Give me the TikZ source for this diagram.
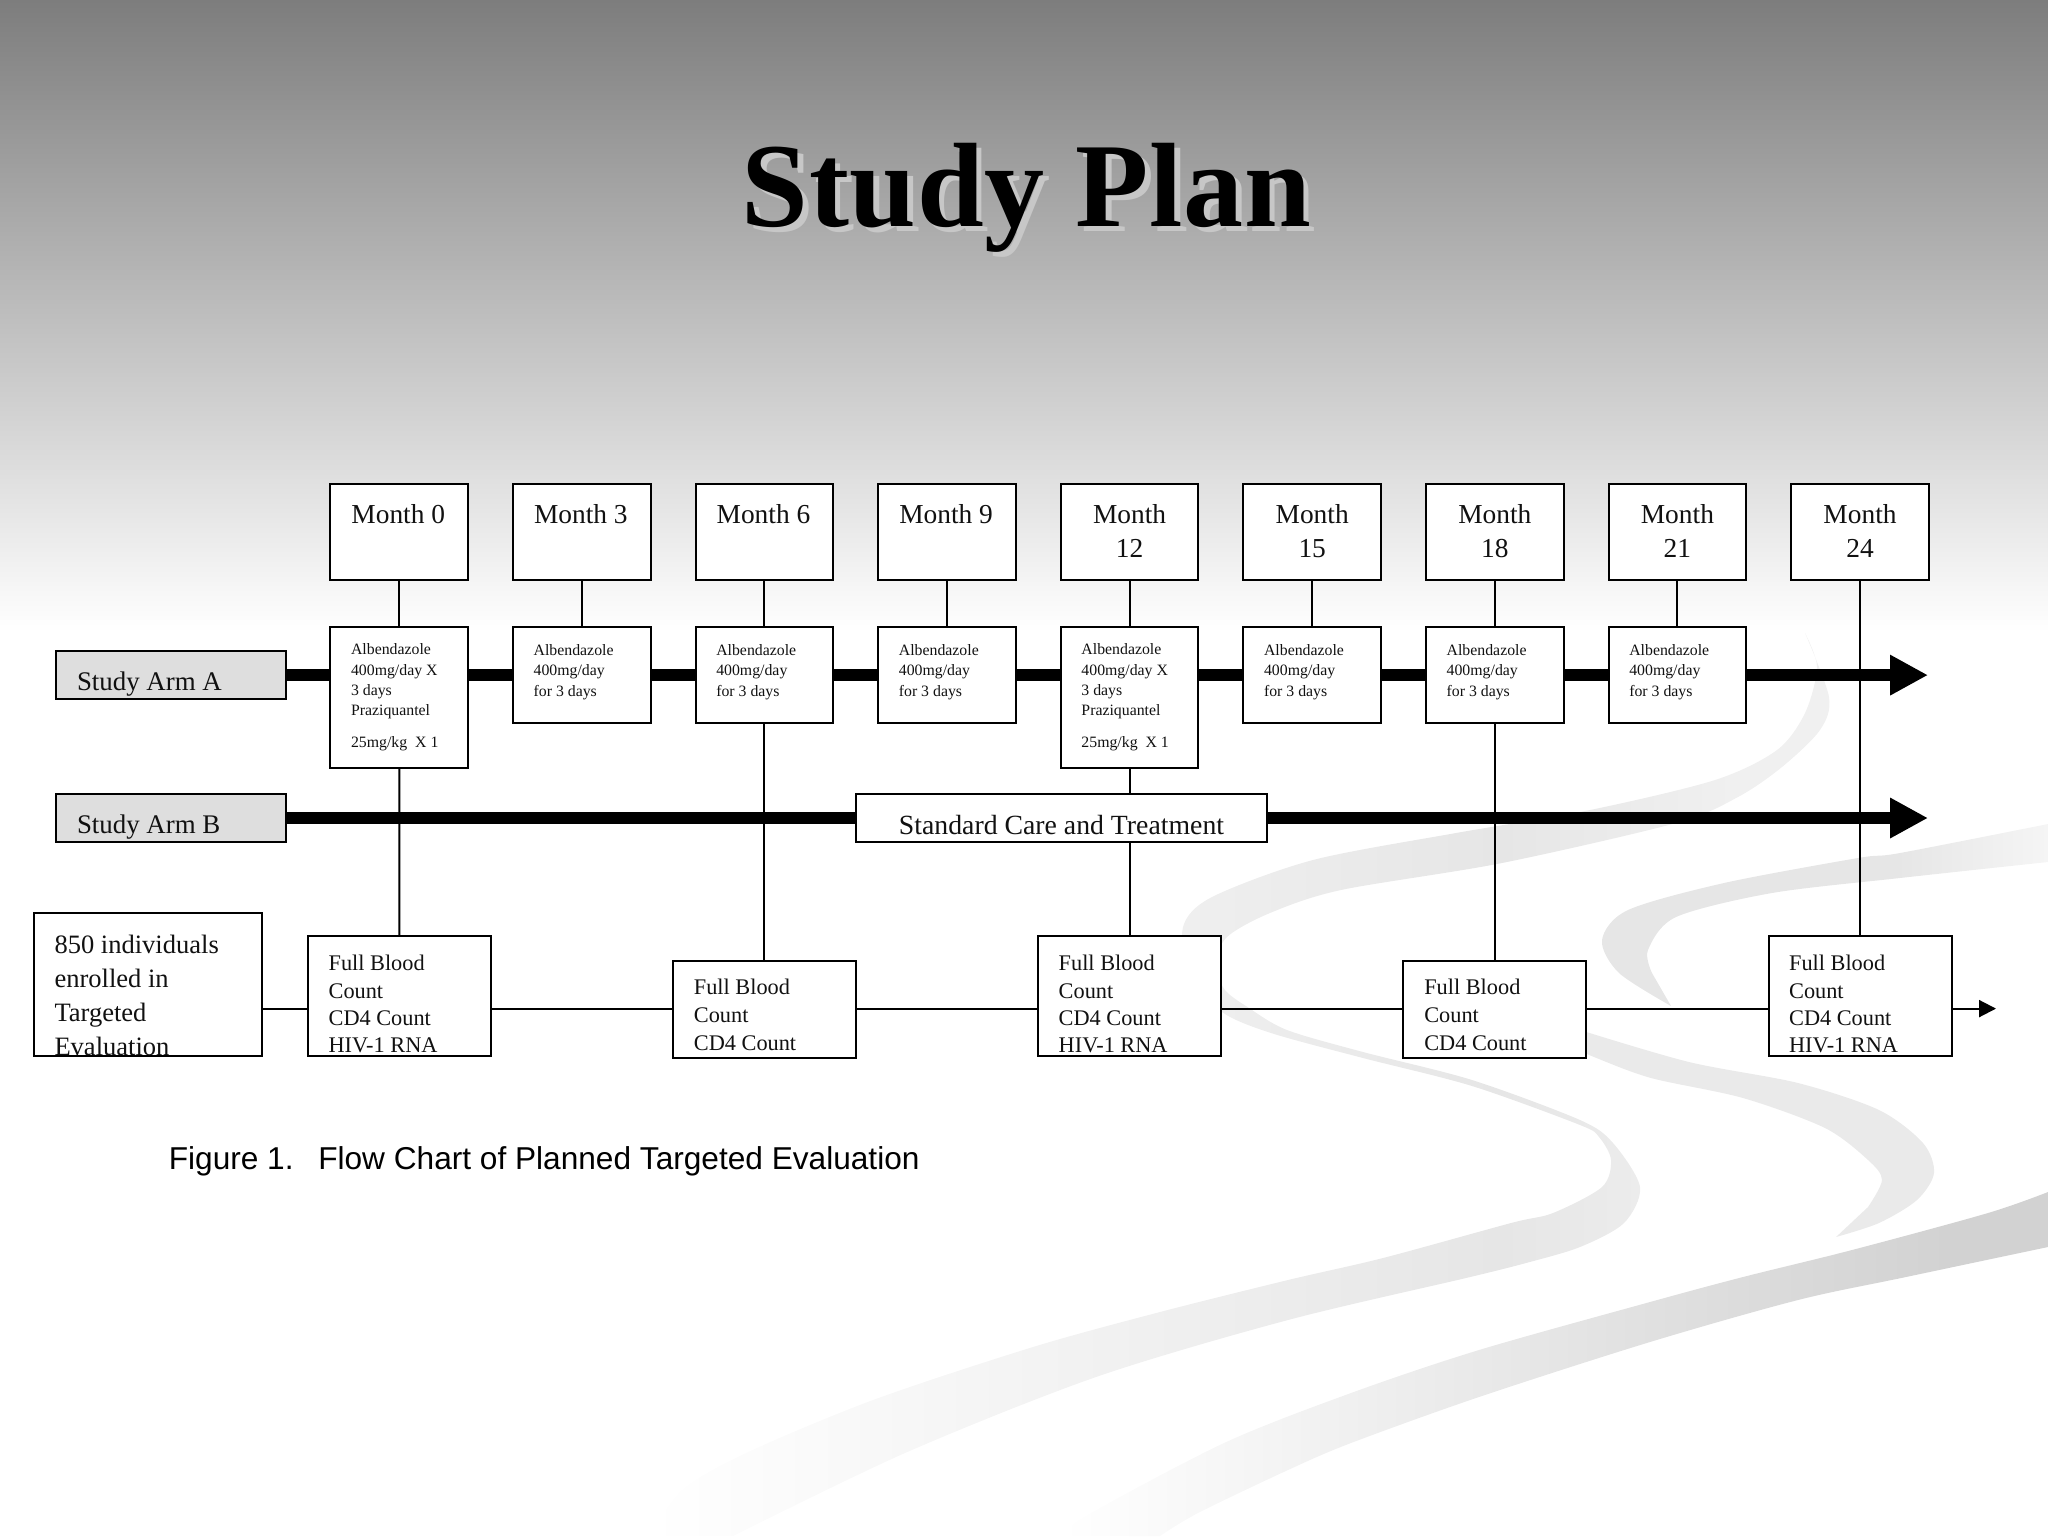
\documentclass[tikz,border=0pt]{standalone}
\usepackage{fontspec}
\setmainfont{Liberation Serif}
\newfontfamily\capfont{Liberation Sans}
\usetikzlibrary{arrows.meta}
\newdimen\pxu \pxu=0.56906pt
\definecolor{ribg}{HTML}{E6E6E6}
\definecolor{ribp}{HTML}{F0F0F0}
\definecolor{ribh}{HTML}{ECECEC}
\definecolor{ribk}{HTML}{F4F4F4}
\definecolor{ribd}{HTML}{E0E0E0}
\definecolor{ribe}{HTML}{D2D2D2}
\definecolor{armfill}{HTML}{DEDEDE}
\definecolor{ink}{HTML}{111111}
\pgfdeclarehorizontalshading{ribone}{100bp}{color(0bp)=(white); color(25bp)=(white); color(40bp)=(ribk); color(52bp)=(ribh); color(61bp)=(ribg); color(71bp)=(ribp); color(100bp)=(ribp)}
\pgfdeclarehorizontalshading{ribtwo}{100bp}{color(0bp)=(ribg); color(58bp)=(ribg); color(75bp)=(white!60!ribg); color(100bp)=(white!60!ribg)}
\pgfdeclarehorizontalshading{ribthree}{100bp}{color(0bp)=(white); color(25bp)=(white); color(55bp)=(ribd); color(70bp)=(ribe); color(100bp)=(ribe)}
% box content: width, height, lines
\newcommand{\bcont}[3]{\vbox to #2\pxu{\hsize=#1\pxu\offinterlineskip\hbox to #1\pxu{\hss}#3\vss}}
% left-aligned line: dx, baseline from top, text
\newcommand{\tl}[3]{\vbox to 0pt{\kern#2\pxu\hbox{\kern#1\pxu\smash{#3}}\vss}}
% centred line: baseline from top, text
\newcommand{\tc}[2]{\vbox to 0pt{\kern#1\pxu\hbox to \hsize{\hss\smash{#2}\hss}\vss}}
\newcommand{\fsz}[1]{\fontsize{#1pt}{#1pt}\selectfont}
\tikzset{
  boxn/.style={draw=black,fill=white,line width=1.15pt,inner sep=0pt,text=ink},
  armn/.style={boxn,fill=armfill},
  conn/.style={draw=black,line width=1.15pt},
  bar/.style={draw=black,line width=7pt},
  bararrow/.style={bar,-{Triangle[length=21.6pt,width=21.6pt]}},
  thinarrow/.style={conn,-{Triangle[length=9.6pt,width=9.6pt]}},
}
\begin{document}
\begin{tikzpicture}[x=0.02cm,y=-0.02cm]
\useasboundingbox (0,0) rectangle (2048,1536);
% background
\shade[top color=black!51,bottom color=white] (0,0) rectangle (2048,632);
\begin{scope}
\clip (0,0) rectangle (2048,1536);
\shade[shading=ribone] plot[smooth] coordinates {(1805,633) (1829,697) (1820,730) (1782,767) (1738,797) (1676,823) (1502,863) (1341,890) (1270,913) (1227,937) (1215,965) (1225,990) (1249,1008) (1287,1030) (1363,1052) (1472,1080) (1580,1120) (1613,1143) (1640,1187) (1624,1223) (1580,1247) (1526,1263) (1466,1278) (1288,1320) (1096,1377) (905,1453) (733,1536)}
  -- plot[smooth] coordinates {(650,1536) (682,1490) (746,1453) (873,1400) (1033,1347) (1160,1312) (1288,1280) (1383,1258) (1511,1223) (1553,1213) (1602,1187) (1611,1160) (1599,1137) (1580,1125) (1472,1086) (1363,1058) (1271,1033) (1222,1012) (1190,975) (1183,927) (1212,897) (1313,860) (1456,833) (1590,810) (1715,780) (1777,750) (1805,713) (1817,667) (1805,633)} -- cycle;
\shade[shading=ribtwo] plot[smooth] coordinates {(2048,824) (1900,853) (1858,858) (1724,883) (1628,910) (1602,940) (1619,973) (1671,1006)}
  -- plot[smooth] coordinates {(1652,973) (1648,950) (1676,917) (1772,893) (1900,878) (2048,862)} -- cycle;
\fill[ribg!85!white] plot[smooth] coordinates {(1580,1030) (1689,1062) (1798,1083) (1879,1110) (1923,1143) (1934,1173) (1917,1200) (1879,1223) (1836,1237)}
  -- plot[smooth] coordinates {(1868,1207) (1882,1180) (1868,1160) (1825,1128) (1743,1098) (1651,1078) (1594,1057) (1580,1050)} -- cycle;
\shade[shading=ribthree] plot[smooth] coordinates {(2048,1192) (1988,1213) (1852,1250) (1743,1277) (1650,1302) (1479,1350) (1351,1393) (1224,1443) (1084,1517) (1065,1536)}
  -- plot[smooth] coordinates {(1160,1536) (1198,1513) (1288,1470) (1351,1443) (1479,1397) (1650,1342) (1798,1300) (1906,1277) (2048,1247)} -- cycle;
\end{scope}
% title
\node[anchor=base,inner sep=0pt,text=black!22,font=\fsz{68.3}\bfseries\addfontfeatures{LetterSpace=0.6}] (titleshadow) at (1032,231) {Study Plan};
\node[anchor=base,inner sep=0pt,text=black,font=\fsz{68.3}\bfseries\addfontfeatures{LetterSpace=0.6}] (title) at (1026.5,226) {Study Plan};
% month boxes
\node[boxn,font=\fsz{15.6}] (m0) at (399.2,532) {\bcont{137.5}{96}{\tl{21}{39}{Month 0}}};
\node[boxn,font=\fsz{15.6}] (m1) at (581.8,532) {\bcont{137.5}{96}{\tl{21}{39}{Month 3}}};
\node[boxn,font=\fsz{15.6}] (m2) at (764.4,532) {\bcont{137.5}{96}{\tl{21}{39}{Month 6}}};
\node[boxn,font=\fsz{15.6}] (m3) at (947,532) {\bcont{137.5}{96}{\tl{21}{39}{Month 9}}};
\node[boxn,font=\fsz{15.6}] (m4) at (1129.6,532) {\bcont{137.5}{96}{\tc{39}{Month}\tc{73}{12}}};
\node[boxn,font=\fsz{15.6}] (m5) at (1312.2,532) {\bcont{137.5}{96}{\tc{39}{Month}\tc{73}{15}}};
\node[boxn,font=\fsz{15.6}] (m6) at (1494.8,532) {\bcont{137.5}{96}{\tc{39}{Month}\tc{73}{18}}};
\node[boxn,font=\fsz{15.6}] (m7) at (1677.4,532) {\bcont{137.5}{96}{\tc{39}{Month}\tc{73}{21}}};
\node[boxn,font=\fsz{15.6}] (m8) at (1860,532) {\bcont{137.5}{96}{\tc{39}{Month}\tc{73}{24}}};
% drug boxes
\newcommand{\tallrx}{\tl{20.6}{27.7}{Albendazole}\tl{20.6}{48.2}{400mg/day X}\tl{20.6}{68.7}{3 days}\tl{20.6}{88.7}{Praziquantel}\tl{20.6}{120.7}{25mg/kg\ \ X 1}}
\newcommand{\shortrx}{\tl{20.6}{27.7}{Albendazole}\tl{20.6}{48.2}{400mg/day}\tl{20.6}{68.7}{for 3 days}}
\node[boxn,font=\fsz{9}] (d0) at (399.2,697.5) {\bcont{137.5}{140.5}{\tallrx}};
\node[boxn,font=\fsz{9}] (d1) at (581.8,675.1) {\bcont{137.5}{95.6}{\shortrx}};
\node[boxn,font=\fsz{9}] (d2) at (764.4,675.1) {\bcont{137.5}{95.6}{\shortrx}};
\node[boxn,font=\fsz{9}] (d3) at (947,675.1) {\bcont{137.5}{95.6}{\shortrx}};
\node[boxn,font=\fsz{9}] (d4) at (1129.6,697.5) {\bcont{137.5}{140.5}{\tallrx}};
\node[boxn,font=\fsz{9}] (d5) at (1312.2,675.1) {\bcont{137.5}{95.6}{\shortrx}};
\node[boxn,font=\fsz{9}] (d6) at (1494.8,675.1) {\bcont{137.5}{95.6}{\shortrx}};
\node[boxn,font=\fsz{9}] (d7) at (1677.4,675.1) {\bcont{137.5}{95.6}{\shortrx}};
% arms
\node[armn,font=\fsz{15.3}] (armA) at (171,675.1) {\bcont{229.4}{48.2}{\tl{20.7}{39.6}{Study Arm A}}};
\node[armn,font=\fsz{15.3}] (armB) at (171,818) {\bcont{229.4}{48.2}{\tl{20.7}{39.6}{Study Arm B}}};
\node[boxn,font=\fsz{15.8}] (std) at (1061.5,817.7) {\bcont{412}{48}{\tc{40.3}{Standard Care and Treatment}}};
% bottom row
\newcommand{\talllab}{\tl{20.6}{33.7}{Full Blood}\tl{20.6}{61.7}{Count}\tl{20.6}{89.4}{CD4 Count}\tl{20.6}{115.7}{HIV-1 RNA}}
\newcommand{\shortlab}{\tl{21}{33.9}{Full Blood}\tl{21}{61.2}{Count}\tl{21}{89.2}{CD4 Count}}
\node[boxn,font=\fsz{15.1}] (enrol) at (148.2,984.5) {\bcont{228.6}{143}{\tl{20.6}{40}{850 individuals}\tl{20.6}{74}{enrolled in}\tl{20.6}{108}{Targeted}\tl{20.6}{142}{Evaluation}}};
\node[boxn,font=\fsz{12.7}] (f0) at (399.5,996.2) {\bcont{183}{119.7}{\talllab}};
\node[boxn,font=\fsz{12.7}] (f2) at (764.4,1009.6) {\bcont{183}{97.6}{\shortlab}};
\node[boxn,font=\fsz{12.7}] (f4) at (1129.6,996.2) {\bcont{183}{119.7}{\talllab}};
\node[boxn,font=\fsz{12.7}] (f6) at (1494.8,1009.6) {\bcont{183}{97.6}{\shortlab}};
\node[boxn,font=\fsz{12.7}] (f8) at (1860,996.2) {\bcont{183}{119.7}{\talllab}};
% caption
\node[anchor=base west,inner sep=0pt,text=black,font=\capfont\fsz{18}] (caption) at (168.5,1169) {Figure 1.\hspace{0.78em}Flow Chart of Planned Targeted Evaluation};
% free ends
\coordinate (endA) at (1928,675.1);
\coordinate (endB) at (1928,818);
\coordinate (endF) at (1996,1008.6);
% thick arm lines
\draw[bar] (armA.east) -- (d0.west |- armA.east);
\foreach \a/\b in {0/1,1/2,2/3,3/4,4/5,5/6,6/7}
  \draw[bar] (d\a.east |- armA.east) -- (d\b.west |- armA.east);
\draw[bararrow] (d7.east |- armA.east) -- (endA);
\draw[bar] (armB.east) -- (std.west |- armB.east);
\draw[bararrow] (std.east |- armB.east) -- (endB);
% vertical connectors
\foreach \i in {0,...,7}
  \draw[conn] (m\i) -- (d\i);
\draw[conn] (m8) -- (f8);
\draw[conn] (d0) -- (f0);
\draw[conn] (d2) -- (f2);
\draw[conn] (d4) -- (std.north -| d4);
\draw[conn] (std.south -| d4) -- (f4);
\draw[conn] (d6) -- (f6);
% horizontal follow-up line
\draw[conn] (enrol.east |- endF) -- (f0.west |- endF);
\draw[conn] (f0.east |- endF) -- (f2.west |- endF);
\draw[conn] (f2.east |- endF) -- (f4.west |- endF);
\draw[conn] (f4.east |- endF) -- (f6.west |- endF);
\draw[conn] (f6.east |- endF) -- (f8.west |- endF);
\draw[thinarrow] (f8.east |- endF) -- (endF);
\end{tikzpicture}
\end{document}
